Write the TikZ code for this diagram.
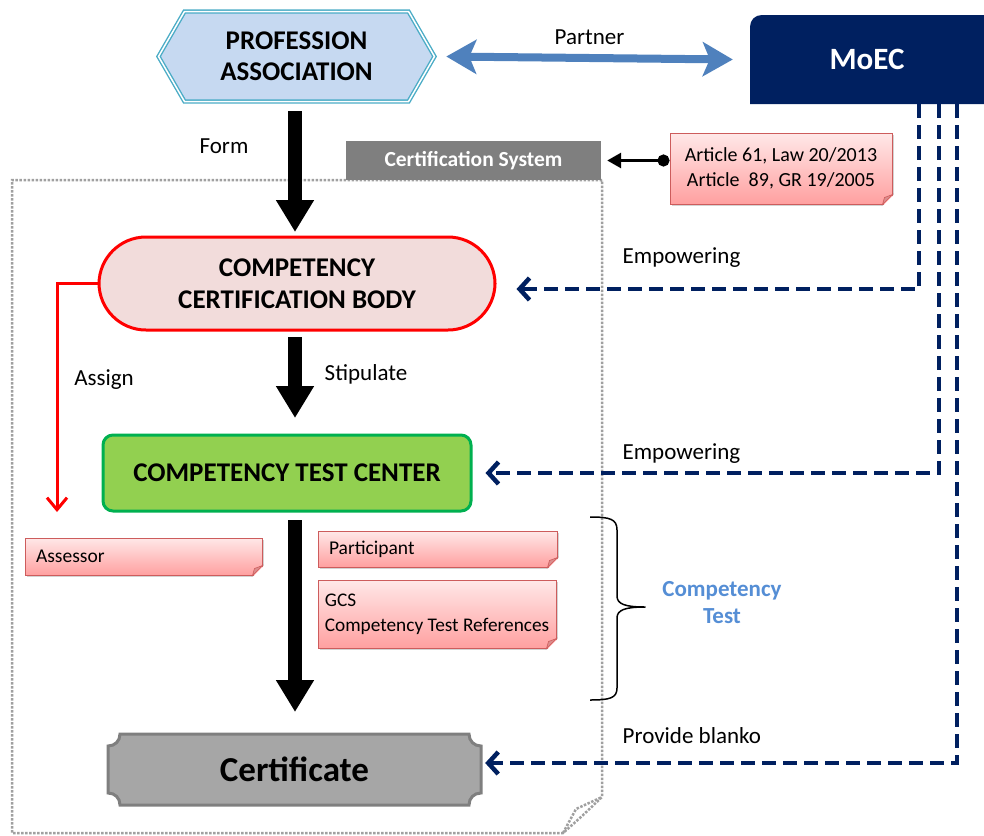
\documentclass[tikz,border=0pt]{standalone}
\usepackage{fontspec}
\setmainfont{Carlito}
\usepackage{xcolor}
\usepackage{tikz}
\usetikzlibrary{arrows.meta, positioning, shapes.symbols, shadows, calc}
\definecolor{pabord}{RGB}{75,172,198}
\definecolor{pafill}{RGB}{198,217,241}
\definecolor{partnerblue}{RGB}{79,129,189}
\definecolor{moecnavy}{RGB}{0,32,96}
\definecolor{ccbfill}{RGB}{242,220,219}
\definecolor{tcfill}{RGB}{146,208,80}
\definecolor{tcdraw}{RGB}{0,176,80}
\definecolor{certfill}{RGB}{166,166,166}
\definecolor{certdraw}{RGB}{127,127,127}
\definecolor{notedraw}{RGB}{205,92,92}
\definecolor{notetop}{RGB}{255,232,232}
\definecolor{notebot}{RGB}{255,160,160}
\definecolor{ctblue}{RGB}{85,142,213}
\definecolor{framegray}{RGB}{160,160,160}
\newcommand{\fsz}[2]{\fontsize{#1}{#2}\selectfont}

\begin{document}
\begin{tikzpicture}[
    x=1pt, y=-1pt,
    every node/.style={font=\fsz{23}{27}},
    assoc/.style={signal, signal to=east and west, signal pointer angle=120,
                  draw=pabord, double=white, double distance=1.5pt, line width=1.4pt,
                  fill=pafill, minimum width=276pt, minimum height=90pt,
                  inner sep=0pt, align=center, font=\fsz{27}{31}\bfseries},
    body/.style={rectangle, rounded corners=47pt, draw=red, fill=ccbfill,
                 line width=3pt, minimum width=396pt, minimum height=93pt,
                 align=center, font=\fsz{27}{32}\bfseries},
    center/.style={rectangle, rounded corners=10pt, draw=tcdraw, fill=tcfill,
                   line width=3pt, minimum width=368pt, minimum height=76pt,
                   font=\fsz{27}{30}\bfseries},
    sysbox/.style={rectangle, fill=certdraw, text=white, minimum width=255pt,
                   minimum height=39pt, font=\fsz{21.5}{24}\bfseries},
    notebox/.style={rectangle, draw=notedraw, line width=1pt,
                    top color=notetop, bottom color=notebot,
                    drop shadow={shadow xshift=2pt, shadow yshift=-2pt, opacity=0.35},
                    inner xsep=11pt, inner ysep=0pt, align=left, font=\fsz{19.5}{25}},
    notefold/.style={fill=notedraw!70, draw=notedraw, line width=0.6pt},
    flowarrow/.style={line width=14pt, -{Triangle[length=32pt,width=36pt]}},
    empower/.style={draw=moecnavy, line width=4.5pt, dash pattern=on 14pt off 7pt,
                    -{Straight Barb[length=10pt,width=22pt]}},
    frame/.style={draw=framegray, line width=2.5pt, dash pattern=on 2.5pt off 1.5pt}
]
\useasboundingbox (0,0) rectangle (984,835);

% --- dotted frame of the certification system ---
\draw[frame] (602,180) -- (12,180) -- (12,833) -- (563,833)
    .. controls (580,818) .. (602,797) -- cycle;
\draw[frame] (563,833) -- (576,809) -- (602,797);

% --- top row ---
\node[assoc] (pa) at (296.5,56.5) {PROFESSION\\ASSOCIATION};
\fill[moecnavy] (990,104) -- (750,104) -- (750,27)
    .. controls (750,20) and (755,15) .. (762,15) -- (990,15) -- cycle;
\node[minimum width=234pt, minimum height=89pt, text=white,
      font=\fsz{31}{34}\bfseries] (moec) at (867,59.5) {MoEC};

\draw[partnerblue, line width=8pt,
      {Stealth[length=30pt,width=34pt,inset=7pt]}-{Stealth[length=30pt,width=34pt,inset=7pt]}]
    ([xshift=11pt]pa.east) -- ([xshift=-17pt]moec.west)
    node[midway, above=6pt, black] {Partner};

% --- legal basis ---
\node[sysbox] (certsys) at (473.5,160.5) {Certification System};
\node[notebox, align=center, font=\fsz{20}{25}, minimum width=222pt, minimum height=71pt]
    (art) at (781,168.5) {Article 61, Law 20/2013\\Article\ \ 89, GR 19/2005};
\draw[line width=3pt, {Circle[length=12pt]}-{Triangle[length=14pt,width=15pt]}]
    (art.west |- certsys.east) -- ([xshift=6pt]certsys.east);

% --- main flow ---
\node[body] (ccb) at (297,283.5) {COMPETENCY\\CERTIFICATION BODY};
\node[center] (tc) at (287,473) {COMPETENCY TEST CENTER};
\draw[draw=certdraw, fill=certfill, line width=3pt]
    (120,734) -- (469,734) .. controls (469,741) and (474,746) .. (481,746)
    -- (481,793) .. controls (474,793) and (469,798) .. (469,805)
    -- (120,805) .. controls (120,798) and (115,793) .. (108,793)
    -- (108,746) .. controls (115,746) and (120,741) .. (120,734) -- cycle;
\node[minimum width=373pt, minimum height=71pt, font=\fsz{35}{38}\bfseries]
    (cert) at (294.5,769.5) {Certificate};

\draw[flowarrow] ([yshift=-9pt]pa.south -| 295,0) -- (295,232);
\node at (224,146) (form) {Form};
\draw[flowarrow] (295,337) -- (295,418);
\node at (366,374) (stip) {Stipulate};
\draw[flowarrow] (295,520) -- (295,712);

% --- assessor branch ---
\coordinate (asg) at (57,512);
\draw[red, line width=3pt, -{Straight Barb[length=12pt,width=20pt]}]
    (ccb.west) -| (asg);
\node at (104,380) (assign) {Assign};

% --- notes ---
\node[notebox, text width=215pt, minimum height=37pt] (assr) at (143.5,556.5) {Assessor};
\node[notebox, text width=217pt, minimum height=36pt] (part) at (437.5,549) {Participant};
\node[notebox, font=\fsz{19.3}{25}, inner xsep=6pt, minimum width=238pt,
      minimum height=68pt] (gcs) at (437,614)
    {GCS\\Competency Test References};
\foreach \n in {art,assr,part,gcs} {
  \fill[white] ($(\n.south east)+(-10,1.5)$) -- ($(\n.south east)+(1.5,1.5)$)
      -- ($(\n.south east)+(1.5,-10)$) -- cycle;
  \draw[notefold] ($(\n.south east)+(-10,0)$) -- ($(\n.south east)+(0,-10)$)
      -- ($(\n.south east)+(-8,-7)$) -- cycle;
}

% --- competency test brace ---
\coordinate (bt) at (590,517);
\coordinate (bb) at (590,700);
\draw[line width=1.5pt, line join=round]
    (bt) .. controls (610,517) and (617,519) .. (617,530) -- (617,596)
    .. controls (617,604) and (625,607) .. (645,607)
    .. controls (625,607) and (617,610) .. (617,618) -- (617,688)
    .. controls (617,698) and (610,700) .. (bb);
\node[text=ctblue, align=center, font=\fsz{23}{27}\bfseries] (ct) at (722,603)
    {Competency\\Test};

% --- MoEC links ---
\draw[empower] ([xshift=52pt]moec.south) |- ([xshift=20pt,yshift=-5.5pt]ccb.east)
    node[pos=0.795, above=16pt, black] {Empowering};
\draw[empower] ([xshift=72pt]moec.south) |- ([xshift=13pt]tc.east)
    node[pos=0.784, above=4pt, black] {Empowering};
\draw[empower] ([xshift=90pt]moec.south) |- ([xshift=4pt,yshift=6.5pt]cert.east)
    node[pos=0.781, above=14pt, black] {Provide blanko};
\end{tikzpicture}
\end{document}
